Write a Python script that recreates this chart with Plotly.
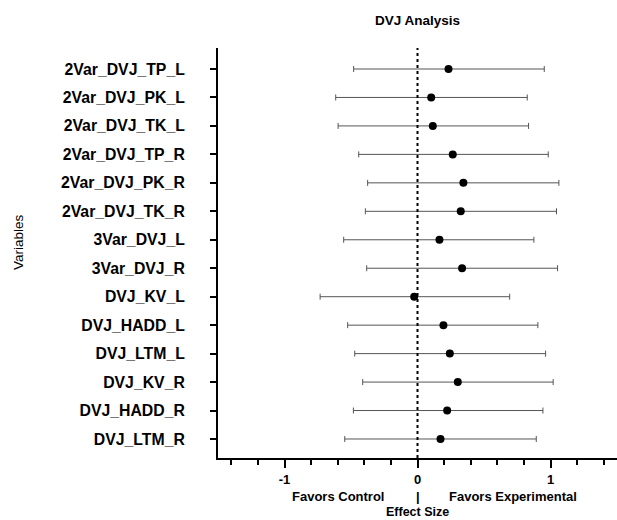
import plotly.graph_objects as go

variables = ["2Var_DVJ_TP_L", "2Var_DVJ_PK_L", "2Var_DVJ_TK_L", "2Var_DVJ_TP_R",
             "2Var_DVJ_PK_R", "2Var_DVJ_TK_R", "3Var_DVJ_L", "3Var_DVJ_R",
             "DVJ_KV_L", "DVJ_HADD_L", "DVJ_LTM_L", "DVJ_KV_R", "DVJ_HADD_R", "DVJ_LTM_R"]
effect_size = [0.233, 0.103, 0.115, 0.265, 0.345, 0.325, 0.165, 0.335,
               -0.025, 0.195, 0.243, 0.303, 0.223, 0.173]
ci_lower = [-0.480, -0.615, -0.597, -0.442, -0.375, -0.392, -0.555, -0.382,
            -0.732, -0.525, -0.472, -0.412, -0.482, -0.547]
ci_upper = [0.953, 0.825, 0.835, 0.983, 1.063, 1.045, 0.875, 1.053,
            0.693, 0.905, 0.963, 1.020, 0.943, 0.893]

err_plus = [u - e for u, e in zip(ci_upper, effect_size)]
err_minus = [e - l for l, e in zip(ci_lower, effect_size)]

FONT = "Liberation Sans, Arial, sans-serif"

fig = go.Figure()
fig.add_trace(go.Scatter(
    x=effect_size, y=variables, mode="markers",
    marker=dict(color="black", size=8),
    error_x=dict(type="data", array=err_plus, arrayminus=err_minus,
                 color="#555555", thickness=1, width=3),
    showlegend=False,
))

fig.add_shape(type="line", xref="x", yref="paper", x0=0, x1=0, y0=0, y1=1,
              line=dict(color="black", width=2, dash="dot"), layer="above")

fig.update_layout(
    width=617, height=520,
    margin=dict(l=218, r=0, t=48, b=62),
    plot_bgcolor="white", paper_bgcolor="white",
    title=dict(text="<b>DVJ Analysis</b>", x=417.5 / 617, xanchor="center",
               y=1 - 20 / 520, yanchor="middle",
               font=dict(family=FONT, size=13.5, color="black")),
    xaxis=dict(range=[-1.5, 1.5], tickvals=[-1, 0, 1], ticktext=["-1", "0", "1"],
               showgrid=False, zeroline=False, showline=True, linecolor="black", linewidth=2,
               ticks="outside", ticklen=8, tickwidth=2, tickcolor="black",
               minor=dict(dtick=0.2, tick0=0, ticks="outside", ticklen=5, tickwidth=2,
                          tickcolor="black", showgrid=False),
               tickfont=dict(family=FONT, size=13, color="black", weight="bold")),
    yaxis=dict(type="category", categoryorder="array", categoryarray=variables,
               range=[13.668, -0.738],
               showgrid=False, zeroline=False, showline=True, linecolor="black", linewidth=2,
               ticks="outside", ticklen=6, tickwidth=2, tickcolor="black",
               ticklabelstandoff=22,
               tickfont=dict(family=FONT, size=15.8, color="black", weight="bold")),
)

ann_font_b = dict(family=FONT, size=13, color="black", weight="bold")
for xv, txt in [(-0.6, "Favors Control"), (0, "|"), (0.72, "Favors Experimental")]:
    fig.add_annotation(x=xv, y=-38 / 410, xref="x", yref="paper", text=txt,
                       showarrow=False, font=ann_font_b, yanchor="middle", borderpad=0)
fig.add_annotation(x=0, y=-62 / 410, xref="x", yref="paper", text="Effect Size",
                   showarrow=False, borderpad=0,
                   font=dict(family=FONT, size=12.5, color="black", weight="bold"),
                   yanchor="bottom")
fig.add_annotation(x=(18 - 218) / 399, y=(458 - 242) / 410, xref="paper", yref="paper",
                   text="Variables", textangle=-90, showarrow=False,
                   font=dict(family=FONT, size=13.5, color="black"),
                   xanchor="center", yanchor="middle")

fig.write_html("out.html", config={"displayModeBar": False},
               post_script="document.body.style.margin='0';document.body.style.padding='0';")
